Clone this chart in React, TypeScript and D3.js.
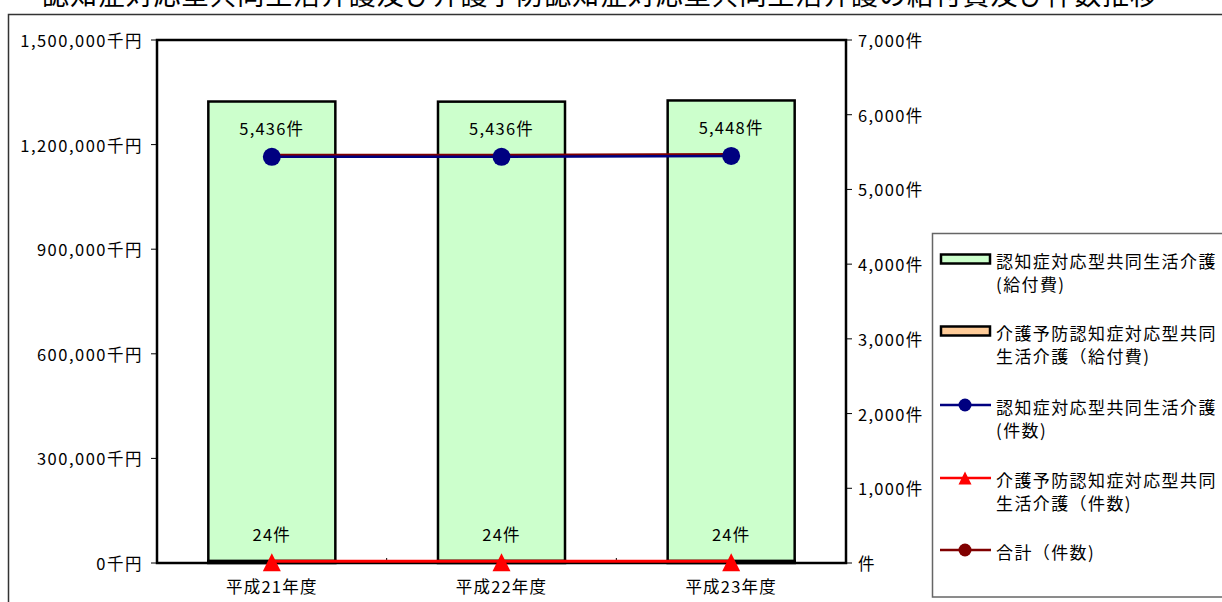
import React from "react";
import * as d3 from "d3";

// Fiscal years on the category axis
const categories = ["平成21年度", "平成22年度", "平成23年度"];

// Benefit costs (thousand yen), stacked bars
const careCost = [1318000, 1317500, 1321000];
const preventiveCost = [5600, 5700, 5600];

// Claim counts (right axis)
const careCount = [5436, 5436, 5448];
const preventiveCount = [24, 24, 24];
const totalCount = [5460, 5460, 5472];

// Axis ticks
const leftTicks = [0, 300000, 600000, 900000, 1200000, 1500000];
const rightTicks = [0, 1000, 2000, 3000, 4000, 5000, 6000, 7000];

const title = "認知症対応型共同生活介護及び介護予防認知症対応型共同生活介護の給付費及び件数推移";

const legendItems = [
  { kind: "bar", fill: "#CCFFCC", lines: ["認知症対応型共同生活介護", "(給付費)"] },
  { kind: "bar", fill: "#FFCC99", lines: ["介護予防認知症対応型共同", "生活介護（給付費)"] },
  { kind: "circle", color: "#000080", lines: ["認知症対応型共同生活介護", "(件数)"] },
  { kind: "triangle", color: "#FF0000", lines: ["介護予防認知症対応型共同", "生活介護（件数)"] },
  { kind: "circle", color: "#800000", lines: ["合計（件数)"] },
];

const FONT = "'Noto Sans CJK JP', 'Noto Sans', sans-serif";

const W = 1222;
const H = 602;
const plot = { left: 157, right: 846, top: 40, bottom: 563 };

function triPath(cx: number, cy: number, s: number) {
  const h = s;
  return `M${cx},${cy - h / 2}L${cx + s / 2},${cy + h / 2}L${cx - s / 2},${cy + h / 2}Z`;
}

export default function App() {
  const x = d3.scaleBand<string>().domain(categories).range([plot.left, plot.right]).padding(0);
  const yL = d3.scaleLinear().domain([0, 1500000]).range([plot.bottom, plot.top]);
  const yR = d3.scaleLinear().domain([0, 7000]).range([plot.bottom, plot.top]);
  const cx = (c: string) => (x(c) as number) + x.bandwidth() / 2;
  const barW = x.bandwidth() * 0.553;
  const fmt = d3.format(",");

  const line = (vals: number[]) =>
    d3
      .line<number>()
      .x((_, i) => cx(categories[i]))
      .y((v) => yR(v))(vals) as string;

  return (
    <svg
      width={W}
      height={H}
      style={{ position: "absolute", left: 0, top: 0, background: "#fff" }}
      fontFamily={FONT}
    >
      <rect x={0} y={0} width={W} height={H} fill="#fff" />
      {/* title */}
      <text x={42} y={4.5} fontSize={27} fill="#000" textLength={1115} lengthAdjust="spacing">
        {title}
      </text>
      {/* chart area frame */}
      <path d={`M8.5,${H + 2}V14.5H${W + 2}`} fill="none" stroke="#333" strokeWidth={1.5} />

      {/* bars: preventive stacked at bottom, care on top */}
      {categories.map((c, i) => {
        const x0 = cx(c) - barW / 2;
        const yP = yL(preventiveCost[i]);
        const yC = yL(preventiveCost[i] + careCost[i]);
        return (
          <g key={c}>
            <rect x={x0} y={yC} width={barW} height={yP - yC} fill="#CCFFCC" stroke="#000" strokeWidth={2.5} />
            <rect x={x0} y={yP} width={barW} height={plot.bottom - yP} fill="#FFCC99" stroke="#000" strokeWidth={2.5} />
          </g>
        );
      })}

      {/* plot frame */}
      <rect
        x={plot.left}
        y={plot.top}
        width={plot.right - plot.left}
        height={plot.bottom - plot.top}
        fill="none"
        stroke="#000"
        strokeWidth={2.5}
      />

      {/* left axis */}
      {leftTicks.map((t) => (
        <g key={t}>
          <line x1={plot.left - 6} x2={plot.left} y1={yL(t)} y2={yL(t)} stroke="#000" strokeWidth={1} />
          <text
            x={143}
            y={yL(t)}
            textAnchor="end"
            dominantBaseline="central"
            fontSize={16.5}
            letterSpacing={1.5}
          >
            {fmt(t) + "千円"}
          </text>
        </g>
      ))}

      {/* right axis */}
      {rightTicks.map((t) => (
        <g key={t}>
          <line x1={plot.right} x2={plot.right + 6} y1={yR(t)} y2={yR(t)} stroke="#000" strokeWidth={1} />
          <text x={858} y={yR(t)} dominantBaseline="central" fontSize={16.5} letterSpacing={1.3}>
            {t === 0 ? "件" : fmt(t) + "件"}
          </text>
        </g>
      ))}

      {/* category boundaries */}
      {categories.slice(1).map((c) => (
        <line key={c} x1={x(c)} x2={x(c)} y1={plot.bottom} y2={plot.bottom - 5} stroke="#000" strokeWidth={1} />
      ))}
      {categories.map((c) => (
        <text key={c} x={cx(c)} y={586} textAnchor="middle" dominantBaseline="central" fontSize={16.5} letterSpacing={1.2}>
          {c}
        </text>
      ))}

      {/* count lines */}
      <path d={line(totalCount)} fill="none" stroke="#800000" strokeWidth={2.5} />
      {totalCount.map((v, i) => (
        <circle key={i} cx={cx(categories[i])} cy={yR(v)} r={6} fill="#800000" />
      ))}
      <path d={line(careCount)} fill="none" stroke="#000080" strokeWidth={2.5} />
      {careCount.map((v, i) => (
        <circle key={i} cx={cx(categories[i])} cy={yR(v)} r={9} fill="#000080" />
      ))}
      <path d={line(preventiveCount)} fill="none" stroke="#FF0000" strokeWidth={3} />
      {preventiveCount.map((v, i) => (
        <path key={i} d={triPath(cx(categories[i]), yR(v) + 1, 18)} fill="#FF0000" />
      ))}

      {/* data labels */}
      {careCount.map((v, i) => (
        <text
          key={i}
          x={cx(categories[i])}
          y={yR(v) - 29}
          textAnchor="middle"
          dominantBaseline="central"
          fontSize={16.5}
          letterSpacing={1.2}
        >
          {fmt(v) + "件"}
        </text>
      ))}
      {preventiveCount.map((v, i) => (
        <text
          key={i}
          x={cx(categories[i])}
          y={yR(v) - 27}
          textAnchor="middle"
          dominantBaseline="central"
          fontSize={16.5}
          letterSpacing={1.2}
        >
          {fmt(v) + "件"}
        </text>
      ))}

      {/* legend */}
      <rect x={932.5} y={233.5} width={320} height={363.5} fill="#fff" stroke="#666" strokeWidth={1.5} />
      {legendItems.map((it, i) => {
        const ly = [259, 331, 405, 478, 550][i];
        return (
          <g key={i}>
            {it.kind === "bar" ? (
              <rect x={941} y={ly - 4.5} width={49} height={9} fill={it.fill} stroke="#000" strokeWidth={2.5} />
            ) : (
              <line x1={940} x2={991} y1={ly} y2={ly} stroke={it.color} strokeWidth={2.5} />
            )}
            {it.kind === "circle" && <circle cx={965} cy={ly} r={6.5} fill={it.color} />}
            {it.kind === "triangle" && <path d={triPath(965, ly, 13)} fill={it.color} />}
            {it.lines.map((t, j) => (
              <text
                key={j}
                x={996}
                y={ly + 1 + j * 23}
                dominantBaseline="central"
                fontSize={17}
                letterSpacing={1.4}
              >
                {t}
              </text>
            ))}
          </g>
        );
      })}
    </svg>
  );
}
